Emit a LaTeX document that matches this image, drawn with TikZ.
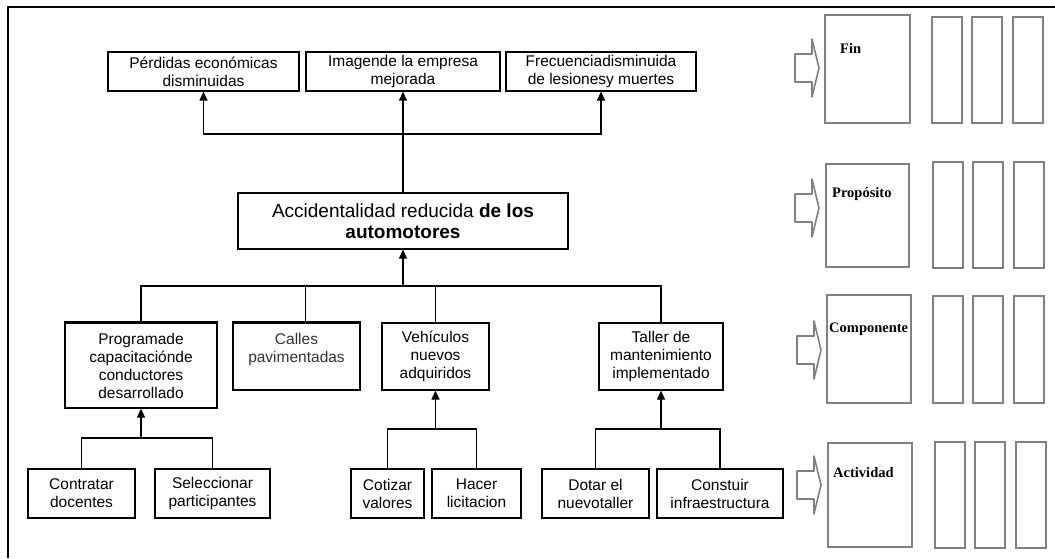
\documentclass[tikz,border=0pt]{standalone}
\usepackage{fontspec}
\setmainfont{Liberation Sans}
\newfontfamily\levelfont{Liberation Serif}
\usetikzlibrary{arrows.meta}

\tikzset{
    hollowarrow/.pic={\draw[hollow] (0,-14) -- (17,-14) -- (17,-29) -- (24,0) -- (17,29) -- (17,14) -- (0,14) -- cycle;}
}

\begin{document}
\begin{tikzpicture}[x=1pt, y=-1pt,
    box/.style={draw, line width=1.2pt, align=center, inner sep=1pt, font=\fontsize{15.5}{18}\selectfont},
    arr/.style={-{Triangle[length=9pt,width=8pt]}, line width=1.2pt},
    link/.style={line width=1.2pt},
    level/.style={draw=black!50, line width=1.6pt, inner sep=0pt},
    levlabel/.style={anchor=west, inner sep=0pt, font=\levelfont\bfseries\fontsize{14.5}{16}\selectfont},
    col/.style={draw=black!50, line width=1.6pt},
    hollow/.style={draw=black!50, line width=1.6pt, line join=round}]

\useasboundingbox (0,0) rectangle (1055,558);
\draw[line width=1.5pt] (8,558) -- (8,7) -- (1055,7);

% fines
\node[box, minimum width=191pt, minimum height=39pt] (perdidas) at (203.5,71.5) {Pérdidas económicas\\disminuidas};
\node[box, minimum width=194pt, minimum height=39pt] (imagen) at (403,71.5) {Imagende la empresa\\mejorada};
\node[box, minimum width=190pt, minimum height=39pt] (frecuencia) at (601,71.5) {Frecuenciadisminuida\\de lesionesy muertes};

% proposito
\node[box, minimum width=330pt, minimum height=56pt, font=\fontsize{19}{21}\selectfont] (accid) at (403,221) {Accidentalidad reducida \textbf{de los}\\\textbf{automotores}};

% componentes
\node[box, minimum width=152pt, minimum height=85pt] (programa) at (141,365.5) {Programade\\capacitaciónde\\conductores\\desarrollado};
\node[box, minimum width=127pt, minimum height=67pt, text=black!80] (calles) at (296.5,356.5) {Calles\\pavimentadas\\\mbox{}};
\node[box, minimum width=107pt, minimum height=67pt] (vehiculos) at (435.5,356.5) {Vehículos\\nuevos\\adquiridos};
\node[box, minimum width=124pt, minimum height=67pt] (taller) at (661,356.5) {Taller de\\mantenimiento\\implementado};
\draw[line width=2.6pt] (programa.north west) -- (programa.north east);
\draw[line width=2.6pt] (calles.north west) -- (calles.north east);

% actividades
\node[box, minimum width=107pt, minimum height=49pt] (contratar) at (81.5,493.5) {Contratar\\docentes};
\node[box, minimum width=115pt, minimum height=49pt] (seleccionar) at (212.5,493.5) {Seleccionar\\participantes};
\node[box, minimum width=73pt, minimum height=49pt] (cotizar) at (387.5,493.5) {Cotizar\\valores};
\node[box, minimum width=89pt, minimum height=49pt] (hacer) at (476.5,493.5) {Hacer\\licitacion};
\node[box, minimum width=107pt, minimum height=49pt] (dotar) at (595.5,493.5) {Dotar el\\nuevotaller};
\node[box, minimum width=126pt, minimum height=49pt] (construir) at (720,493.5) {Constuir\\infraestructura};

% conectores
\coordinate (topfork) at (403,134);
\coordinate (midfork) at (403,286);
\coordinate (progfork) at (141,438);
\coordinate (vehfork) at (435.5,429);
\coordinate (tallfork) at (661,429);

\draw[arr] (accid.north) -- (imagen.south);
\draw[arr] (topfork) -| (perdidas.south);
\draw[arr] (topfork) -| (frecuencia.south);

\draw[arr] (midfork) -- (accid.south);
\draw[link] (midfork) -| (programa.north);
\draw[link] (midfork) -| ([xshift=9pt]calles.north);
\draw[link] (midfork) -| (vehiculos.north);
\draw[link] (midfork) -| (taller.north);

\draw[arr] (progfork) -- (programa.south);
\draw[link] (progfork) -| (contratar.north);
\draw[link] (progfork) -| (seleccionar.north);
\draw[arr] (vehfork) -- (vehiculos.south);
\draw[link] (vehfork) -| (cotizar.north);
\draw[link] (vehfork) -| (hacer.north);
\draw[arr] (tallfork) -- (taller.south);
\draw[link] (tallfork) -| (dotar.north);
\draw[link] (tallfork) -| (construir.north);

% matriz de marco logico
\node[level, minimum width=85pt, minimum height=108pt] (fin) at (867.5,69) {};
\node[level, minimum width=83pt, minimum height=103pt] (proposito) at (867.5,215.5) {};
\node[level, minimum width=84pt, minimum height=108pt] (componente) at (869,349) {};
\node[level, minimum width=84pt, minimum height=104pt] (actividad) at (870,495) {};

\node[levlabel] (finlab) at (840,48) {Fin};
\node[levlabel] (proplab) at (832,194) {Propósito};
\node[levlabel] (complab) at (829,329) {Componente};
\node[levlabel] (actlab) at (833,473) {Actividad};

\pic at (795,68) {hollowarrow};
\pic at (795,208) {hollowarrow};
\pic at (797,350) {hollowarrow};
\pic at (797,485) {hollowarrow};

\foreach \dx/\top/\bot in {0/17/123, 1/162/268, 1/296/403, 3/442/548}
  \foreach \cx in {932,972,1013}
    \draw[col] (\cx+\dx,\top) rectangle (\cx+\dx+30,\bot);

\end{tikzpicture}
\end{document}
